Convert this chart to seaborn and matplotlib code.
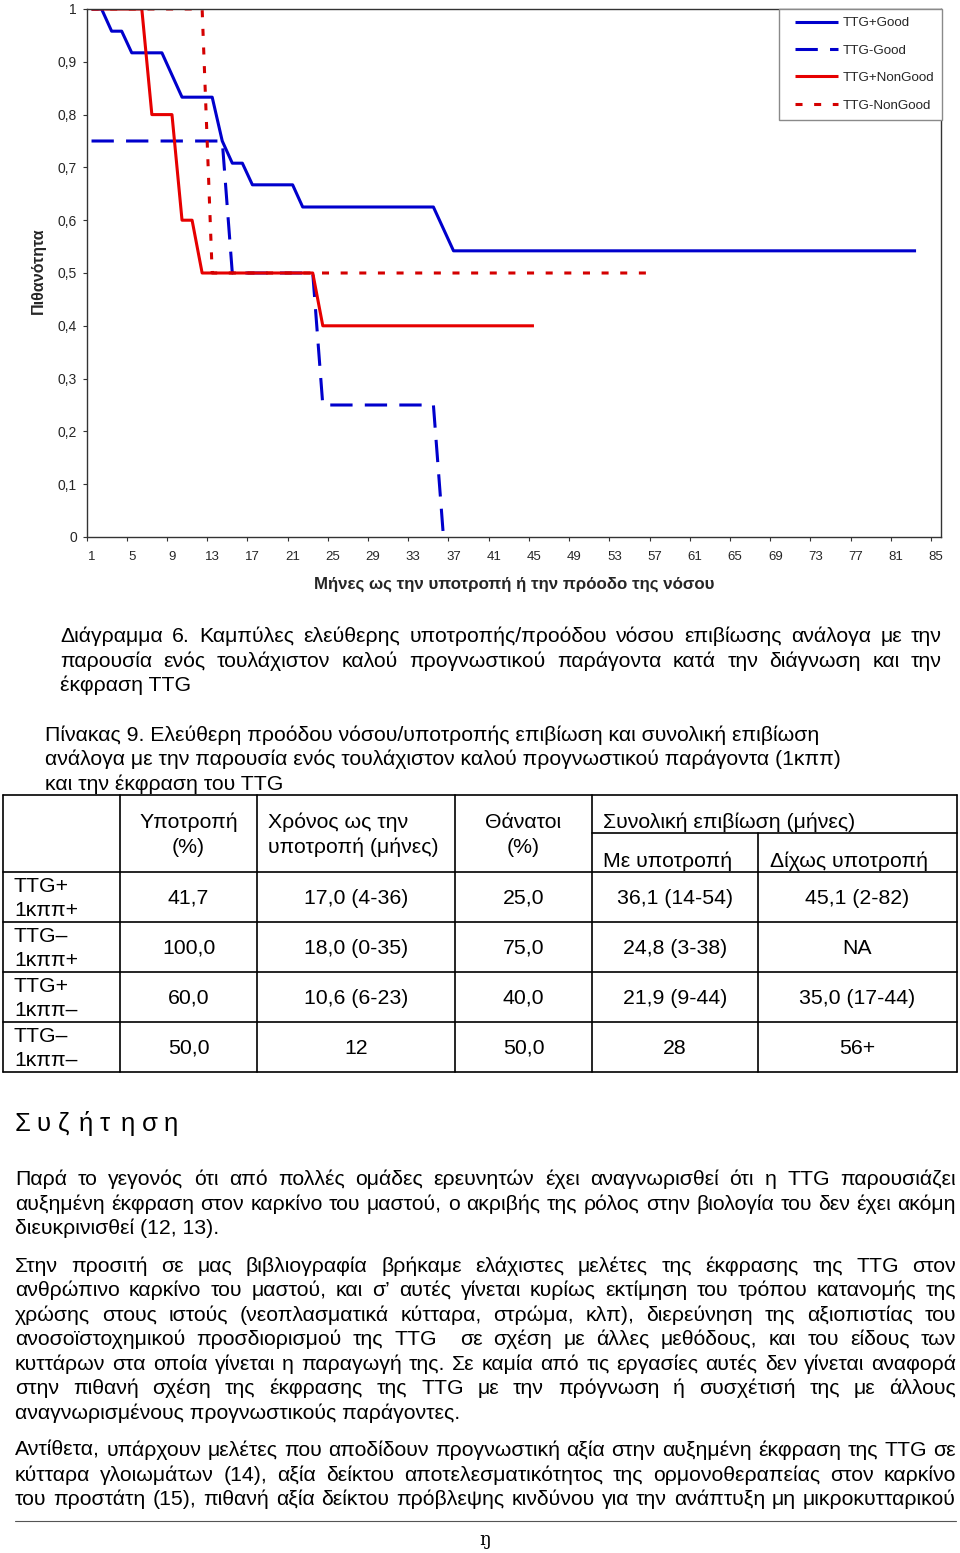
import numpy as np
import pandas as pd
import matplotlib
matplotlib.use("Agg")
import matplotlib.pyplot as plt
import seaborn as sns
from matplotlib.lines import Line2D
from matplotlib.legend_handler import HandlerLine2D
from matplotlib.ticker import FixedLocator, NullFormatter

# ---------------- data ----------------
series_names = ["TTG+Good", "TTG-Good", "TTG+NonGood", "TTG-NonGood"]

ttg_pos_good_months = [1, 2, 3, 4, 5, 8, 10, 13, 14, 15, 16, 17, 21, 22, 35, 37, 83]
ttg_pos_good_prob = [1.0, 1.0, 0.958, 0.958, 0.917, 0.917, 0.833, 0.833, 0.75, 0.708,
                     0.708, 0.667, 0.667, 0.625, 0.625, 0.542, 0.542]

ttg_neg_good_months = [1, 14, 15, 23, 24, 35, 36]
ttg_neg_good_prob = [0.75, 0.75, 0.5, 0.5, 0.25, 0.25, 0.0]

ttg_pos_nongood_months = [1, 6, 7, 9, 10, 11, 12, 23, 24, 45]
ttg_pos_nongood_prob = [1.0, 1.0, 0.8, 0.8, 0.6, 0.6, 0.5, 0.5, 0.4, 0.4]

ttg_neg_nongood_months = [1, 12, 13, 57]
ttg_neg_nongood_prob = [1.0, 1.0, 0.5, 0.5]

x_tick_values = [1, 5, 9, 13, 17, 21, 25, 29, 33, 37, 41, 45, 49, 53, 57, 61, 65, 69, 73, 77, 81, 85]
x_tick_labels = ["1", "5", "9", "13", "17", "21", "25", "29", "33", "37", "41", "45",
                 "49", "53", "57", "61", "65", "69", "73", "77", "81", "85"]
y_tick_values = [0.0, 0.1, 0.2, 0.3, 0.4, 0.5, 0.6, 0.7, 0.8, 0.9, 1.0]
y_tick_labels = ["0", "0,1", "0,2", "0,3", "0,4", "0,5", "0,6", "0,7", "0,8", "0,9", "1"]

x_label = "Μήνες ως την υποτροπή ή την πρόοδο της νόσου"
y_label = "Πιθανότητα"

caption_lines = [
    "Διάγραμμα 6. Καμπύλες ελεύθερης υποτροπής/προόδου νόσου επιβίωσης ανάλογα με την",
    "παρουσία ενός τουλάχιστον καλού προγνωστικού παράγοντα κατά την διάγνωση και την",
    "έκφραση TTG",
]
table_title_lines = [
    "Πίνακας 9. Ελεύθερη προόδου νόσου/υποτροπής επιβίωση και συνολική επιβίωση",
    "ανάλογα με την παρουσία ενός τουλάχιστον καλού προγνωστικού παράγοντα (1κππ)",
    "και την έκφραση του TTG",
]
table_row_labels = [("TTG+", "1κππ+"), ("TTG–", "1κππ+"), ("TTG+", "1κππ–"), ("TTG–", "1κππ–")]
relapse_pct = ["41,7", "100,0", "60,0", "50,0"]
time_to_relapse = ["17,0 (4-36)", "18,0 (0-35)", "10,6 (6-23)", "12"]
deaths_pct = ["25,0", "75,0", "40,0", "50,0"]
os_with_relapse = ["36,1 (14-54)", "24,8 (3-38)", "21,9 (9-44)", "28"]
os_without_relapse = ["45,1 (2-82)", "NA", "35,0 (17-44)", "56+"]

heading = "Συζήτηση"
paragraphs = [
    ["Παρά το γεγονός ότι από πολλές ομάδες ερευνητών έχει αναγνωρισθεί ότι η TTG παρουσιάζει",
     "αυξημένη έκφραση στον καρκίνο του μαστού, ο ακριβής της ρόλος στην βιολογία του δεν έχει ακόμη",
     "διευκρινισθεί (12, 13)."],
    ["Στην προσιτή σε μας βιβλιογραφία βρήκαμε ελάχιστες μελέτες της έκφρασης της TTG στον",
     "ανθρώπινο καρκίνο του μαστού, και σ’ αυτές γίνεται κυρίως εκτίμηση του τρόπου κατανομής της",
     "χρώσης στους ιστούς (νεοπλασματικά κύτταρα, στρώμα, κλπ), διερεύνηση της αξιοπιστίας του",
     "ανοσοϊστοχημικού προσδιορισμού της TTG  σε σχέση με άλλες μεθόδους, και του είδους των",
     "κυττάρων στα οποία γίνεται η παραγωγή της. Σε καμία από τις εργασίες αυτές δεν γίνεται αναφορά",
     "στην πιθανή σχέση της έκφρασης της TTG με την πρόγνωση ή συσχέτισή της με άλλους",
     "αναγνωρισμένους προγνωστικούς παράγοντες."],
    ["Αντίθετα, υπάρχουν μελέτες που αποδίδουν προγνωστική αξία στην αυξημένη έκφραση της TTG σε",
     "κύτταρα γλοιωμάτων (14), αξία δείκτου αποτελεσματικότητος της ορμονοθεραπείας στον καρκίνο",
     "του προστάτη (15), πιθανή αξία δείκτου πρόβλεψης κινδύνου για την ανάπτυξη μη μικροκυτταρικού"],
]
page_number = "ŋ"

# ---------------- setup ----------------
sns.set_theme(style="white")
FONT = ["Liberation Sans", "DejaVu Sans"]
plt.rcParams["font.family"] = FONT

W, H = 960, 1553
fig = plt.figure(figsize=(W / 100, H / 100), dpi=100, facecolor="white")
renderer = fig.canvas.get_renderer()


def fx(x):
    return x / W


def fy(y):
    return 1 - y / H


def text_width(s, size, weight="normal"):
    t = fig.text(0, 0, s, fontsize=size, fontweight=weight, family=FONT)
    w = t.get_window_extent(renderer).width
    t.remove()
    return w


def fit_size(s, target, weight="normal"):
    return 10 * target / text_width(s, 10, weight)


# ---------------- chart ----------------
ax_left, ax_right, ax_top, ax_bottom = 86.5, 941.2, 9, 537
ax = fig.add_axes([fx(ax_left), fy(ax_bottom), (ax_right - ax_left) / W, (ax_bottom - ax_top) / H])

frames = []
for name, m, p in zip(series_names,
                      [ttg_pos_good_months, ttg_neg_good_months, ttg_pos_nongood_months, ttg_neg_nongood_months],
                      [ttg_pos_good_prob, ttg_neg_good_prob, ttg_pos_nongood_prob, ttg_neg_nongood_prob]):
    frames.append(pd.DataFrame({"month": m, "prob": p, "group": name}))
df = pd.concat(frames, ignore_index=True)

palette = {"TTG+Good": "#0000CC", "TTG-Good": "#0000CC", "TTG+NonGood": "#E60000", "TTG-NonGood": "#D40000"}
dashes = {"TTG+Good": "", "TTG-Good": (7.3, 4.0), "TTG+NonGood": "", "TTG-NonGood": (2.3, 3.8)}
sns.lineplot(data=df, x="month", y="prob", hue="group", style="group", hue_order=series_names,
             style_order=series_names, palette=palette, dashes=dashes, estimator=None, sort=False,
             linewidth=2.2, legend=False, ax=ax)
for ln in ax.lines:
    ln.set_solid_capstyle("butt")
    ln.set_dash_capstyle("butt")

ax.set_xlim(0.5, 85.5)
ax.set_ylim(0, 1)
ax.xaxis.set_major_locator(FixedLocator([v - 0.5 for v in x_tick_values]))
ax.xaxis.set_major_formatter(NullFormatter())
ax.xaxis.set_minor_locator(FixedLocator(x_tick_values))
ax.set_xticklabels(x_tick_labels, minor=True)
ax.tick_params(axis="x", which="major", direction="out", length=3, width=0.8, color="#333333", bottom=True)
ax.tick_params(axis="x", which="minor", length=0, pad=10, labelsize=9.5, bottom=True)
ax.set_yticks(y_tick_values)
ax.set_yticklabels(y_tick_labels)
ax.tick_params(axis="y", which="major", direction="out", length=3, width=0.8, color="#333333",
               pad=4, labelsize=10, left=True)
for sp in ax.spines.values():
    sp.set_visible(True)
    sp.set_color("#333333")
    sp.set_linewidth(1.0)
ax.grid(False)

ax.set_xlabel(x_label, fontsize=fit_size(x_label, 399, "bold"), fontweight="bold")
ax.xaxis.set_label_coords(0.5, (ax_bottom - 584) / (ax_bottom - ax_top))
ax.xaxis.label.set_va("center")
ax.set_ylabel(y_label, fontsize=fit_size(y_label, 86, "bold"), fontweight="bold")
ax.yaxis.set_label_coords((38 - ax_left) / (ax_right - ax_left), (ax_bottom - 271) / (ax_bottom - ax_top))
ax.yaxis.label.set_va("center")

handles = []
for l, name in zip(ax.lines[:4], series_names):
    h = Line2D([], [], color=l.get_color(), linewidth=2.2, solid_capstyle="butt", dash_capstyle="butt")
    if dashes[name]:
        h.set_dashes(dashes[name])
    handles.append(h)
leg = ax.legend(handles, series_names, loc="upper right", bbox_to_anchor=(1.0015, 1.0),
                borderaxespad=0, fontsize=9.6, frameon=True, fancybox=False, framealpha=1,
                edgecolor="#8a8a8a", handlelength=3.8, handletextpad=0.38,
                labelspacing=1.13, borderpad=0.6,
                handler_map={Line2D: HandlerLine2D(xpad=0.58)})
leg.get_frame().set_linewidth(1.0)

# ---------------- text helpers ----------------
body_size = fit_size("αναγνωρισμένους προγνωστικούς παράγοντες.", 446)


def draw_lines(lines, x0, x1, y_centers, size, justify=True, justify_last=False):
    for i, (line, yc) in enumerate(zip(lines, y_centers)):
        yb = yc + 0.32 * size * 100 / 72
        last = i == len(lines) - 1
        words = line.split(" ")
        if (not justify) or (last and not justify_last) or len(words) == 1:
            fig.text(fx(x0), fy(yb), line, fontsize=size, va="baseline", ha="left", color="black")
            continue
        widths = [text_width(w, size) if w else 0.0 for w in words]
        gap = (x1 - x0 - sum(widths)) / (len(words) - 1)
        x = x0
        for w, wd in zip(words, widths):
            if w:
                fig.text(fx(x), fy(yb), w, fontsize=size, va="baseline", ha="left", color="black")
            x += wd + gap


# caption
draw_lines(caption_lines, 60, 942, [635, 660, 684], body_size)
# table title
draw_lines(table_title_lines, 45, 942, [734, 758, 783], body_size, justify=False)

# ---------------- table ----------------
cols = [3, 120, 257, 455, 592, 758, 957]
rows = [795, 872, 922, 972, 1022, 1072]
lw_t = 1.2


def hline(x0, x1, y, lw=lw_t, color="black"):
    fig.add_artist(Line2D([fx(x0), fx(x1)], [fy(y), fy(y)], transform=fig.transFigure, color=color, lw=lw))


def vline(x, y0, y1, lw=lw_t):
    fig.add_artist(Line2D([fx(x), fx(x)], [fy(y0), fy(y1)], transform=fig.transFigure, color="black", lw=lw))


for r in rows:
    hline(cols[0], cols[-1], r)
hline(cols[4], cols[6], 833)
for c in cols:
    if c == 758:
        vline(c, 833, rows[-1])
    else:
        vline(c, rows[0], rows[-1])


def ctext(s, x, yc, ha="center"):
    fig.text(fx(x), fy(yc + 0.32 * body_size * 100 / 72), s, fontsize=body_size, ha=ha, va="baseline",
             color="black")


ctext("Υποτροπή", (cols[1] + cols[2]) / 2, 821)
ctext("(%)", (cols[1] + cols[2]) / 2, 846)
ctext("Χρόνος ως την", 268, 821, ha="left")
ctext("υποτροπή (μήνες)", 268, 846, ha="left")
ctext("Θάνατοι", (cols[3] + cols[4]) / 2, 821)
ctext("(%)", (cols[3] + cols[4]) / 2, 846)
ctext("Συνολική επιβίωση (μήνες)", 603, 821, ha="left")
ctext("Με υποτροπή", 603, 860, ha="left")
ctext("Δίχως υποτροπή", 770, 860, ha="left")

for i in range(4):
    yc = (rows[i + 1] + rows[i + 2]) / 2
    ctext(table_row_labels[i][0], 14, yc - 12, ha="left")
    ctext(table_row_labels[i][1], 14, yc + 12, ha="left")
    for j, col in enumerate([relapse_pct, time_to_relapse, deaths_pct, os_with_relapse, os_without_relapse]):
        ctext(col[i], (cols[j + 1] + cols[j + 2]) / 2, yc)

# ---------------- discussion ----------------
head_size = 18.5
for k, ch in enumerate(heading):
    fig.text(fx(15 + k * 21.2), fy(1131), ch, fontsize=head_size, ha="left", va="baseline", color="black")

draw_lines(paragraphs[0], 15, 956, [1178, 1203, 1227], body_size)
draw_lines(paragraphs[1], 15, 956, [1265, 1289, 1314, 1338, 1363, 1387, 1412], body_size)
draw_lines(paragraphs[2], 15, 956, [1449, 1474, 1498], body_size, justify_last=True)

hline(15, 956, 1521, lw=0.8, color="#555555")
fig.text(fx(485), fy(1540), page_number, fontsize=13, ha="center", va="center", color="black",
         family=["DejaVu Serif"])

fig.savefig("out.png", dpi=100, facecolor="white")
